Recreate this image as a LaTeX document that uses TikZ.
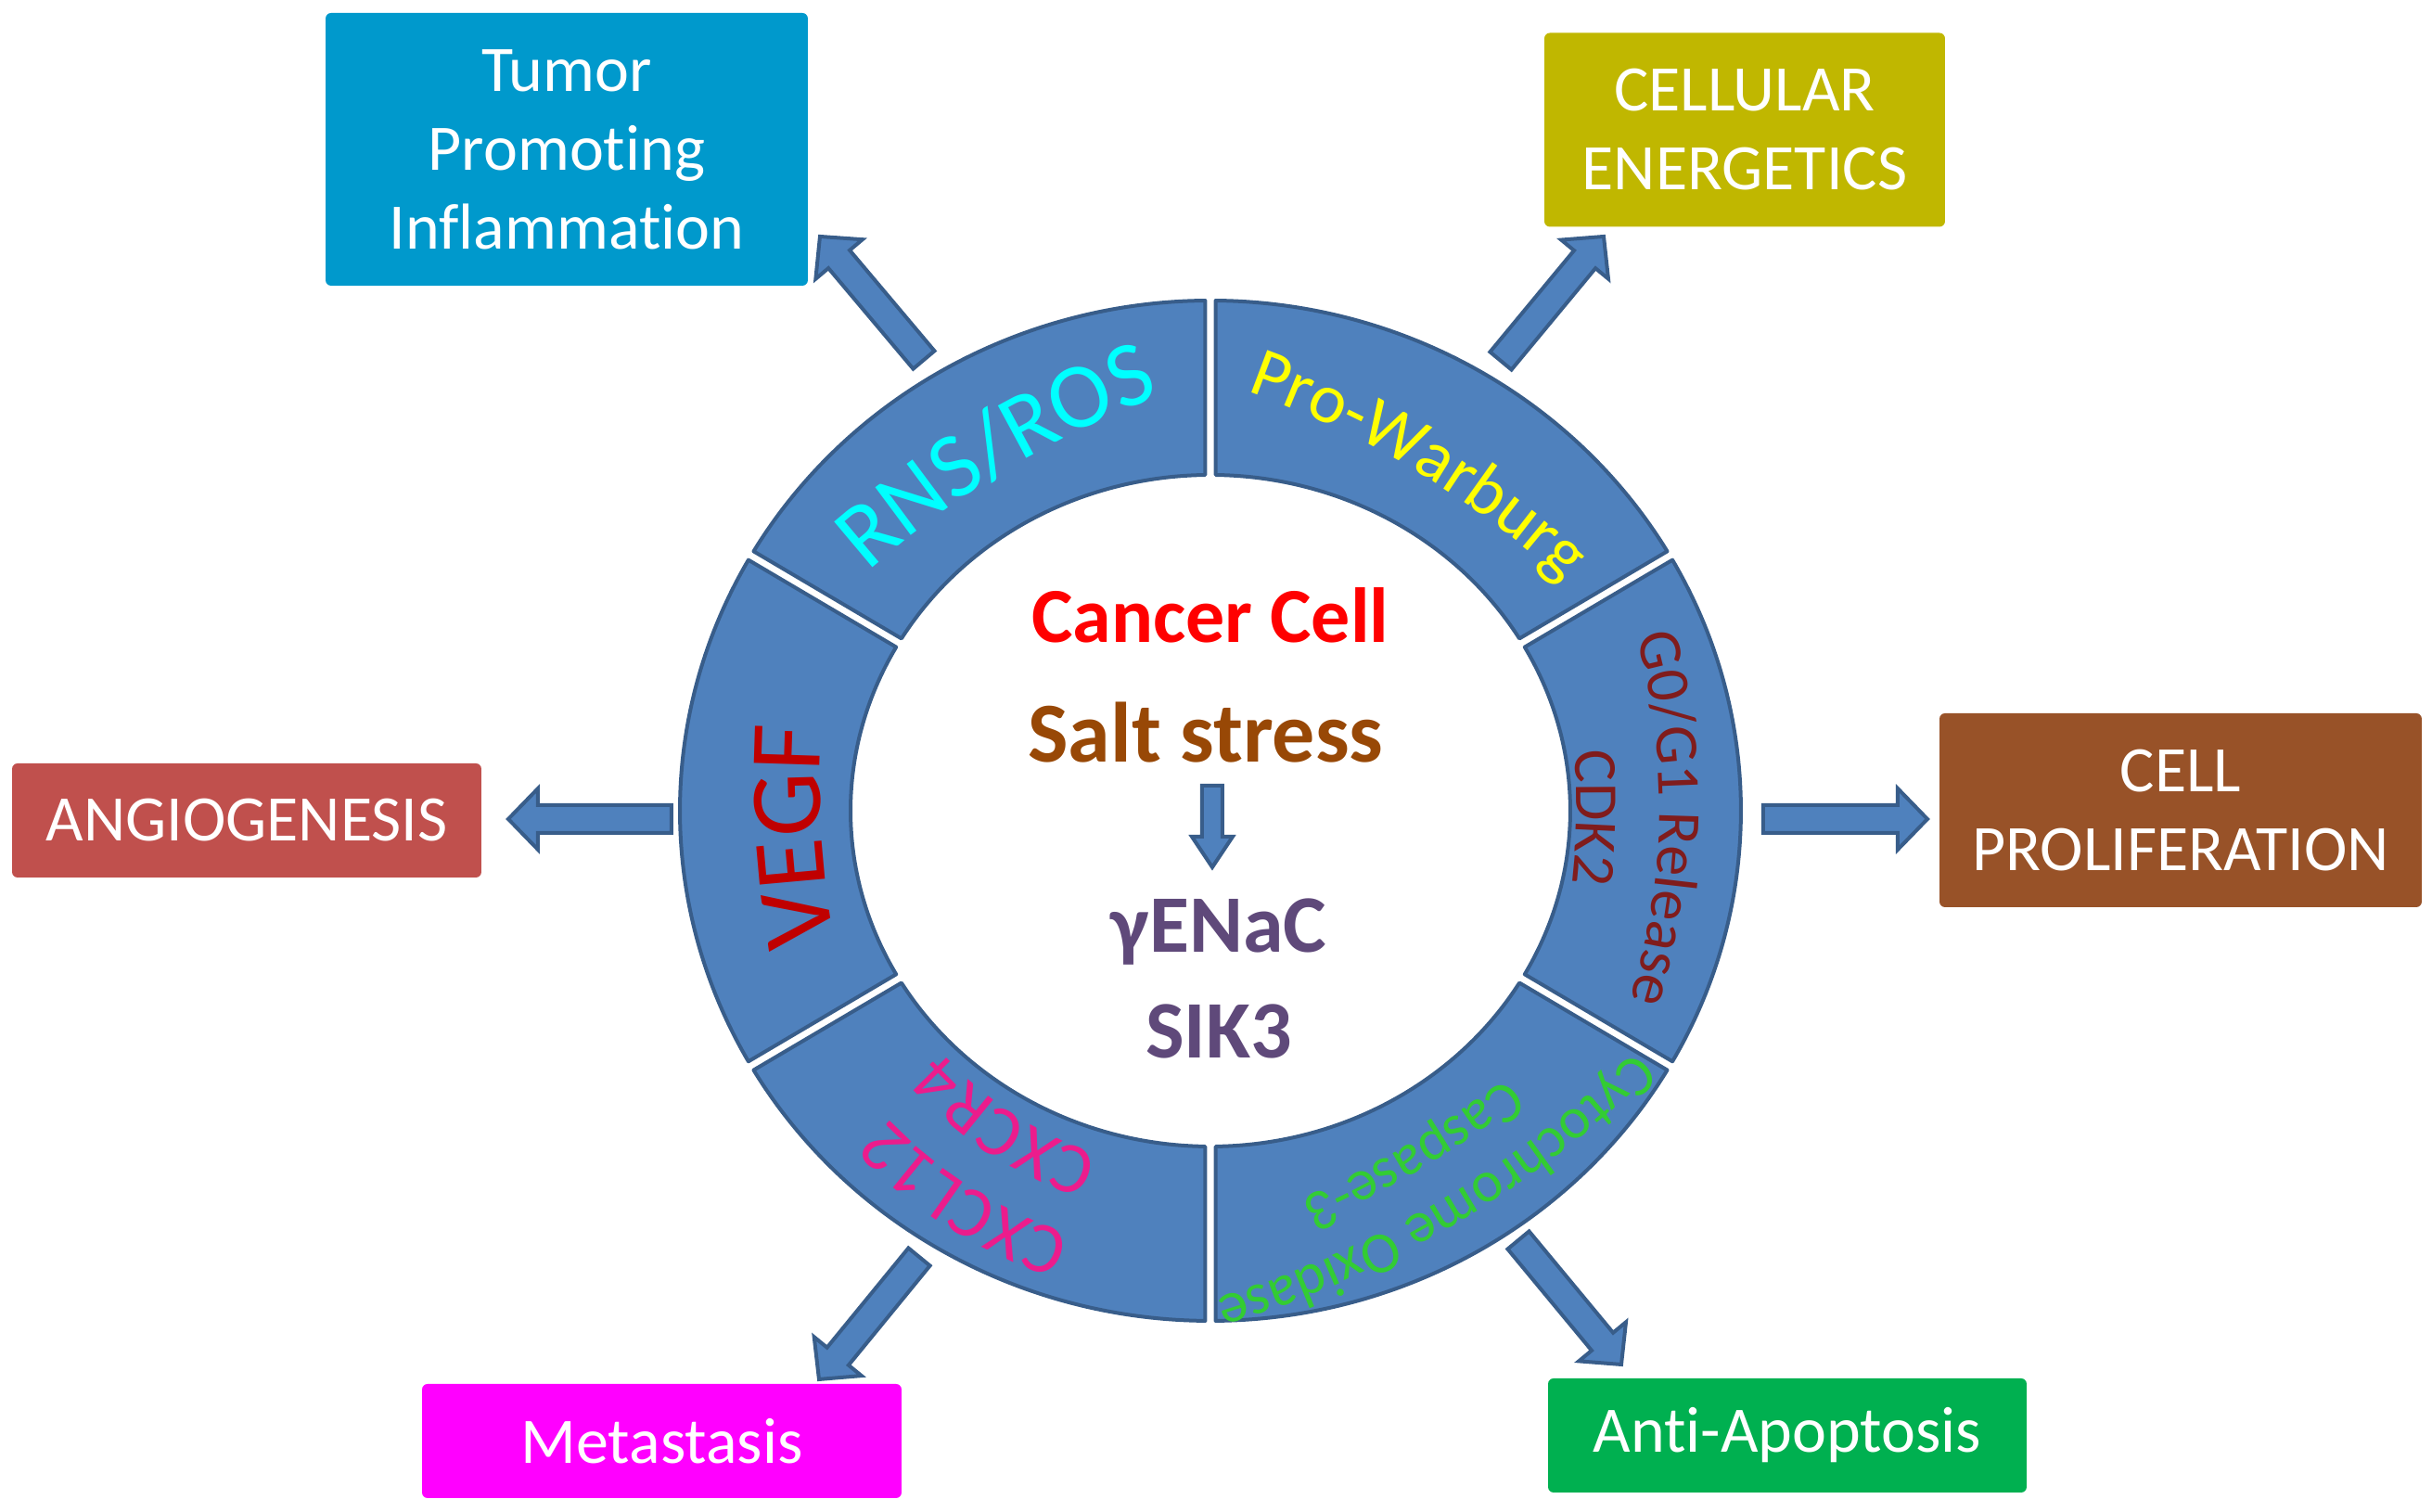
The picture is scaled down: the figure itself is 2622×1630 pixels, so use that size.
\documentclass[tikz,border=0pt]{standalone}
\usepackage{fontspec}
\setmainfont[Ligatures=NoCommon]{Carlito}
\usetikzlibrary{calc,decorations.text}
\definecolor{ringblue}{RGB}{79,129,189}
\definecolor{ringline}{RGB}{56,93,138}
\definecolor{cInfl}{RGB}{0,153,204}
\definecolor{cEner}{RGB}{192,183,0}
\definecolor{cAngio}{RGB}{192,80,77}
\definecolor{cProl}{RGB}{152,82,40}
\definecolor{cMeta}{RGB}{255,0,255}
\definecolor{cApop}{RGB}{0,176,80}
\definecolor{tCancer}{RGB}{255,0,0}
\definecolor{tSalt}{RGB}{152,72,6}
\definecolor{tEnac}{RGB}{95,73,122}
\definecolor{tCyan}{RGB}{0,255,255}
\definecolor{tYellow}{RGB}{255,255,0}
\definecolor{tGzero}{RGB}{128,28,28}
\definecolor{tGreen}{RGB}{51,204,51}
\definecolor{tPink}{RGB}{236,28,140}
\definecolor{tVegf}{RGB}{192,0,0}
% sizes are given in pixels of the reference; 1 px = 0.1 pt
\newcommand\fsz[1]{\fontsize{#1pt}{#1pt}\selectfont}
% block arrow: tail, tip, shaft half width, head half width, head length (px)
\newcommand\blockarrow[5]{%
  \pgfmathsetmacro\baW{#3*0.1}\pgfmathsetmacro\baH{#4*0.1}\pgfmathsetmacro\baL{#5*0.1}%
  \path ($(#2)!\baL pt!(#1)$) coordinate (bahead);
  \draw[barrow] ($(#1)!\baW pt!90:(#2)$) -- ($(bahead)!\baW pt!-90:(#1)$)
    -- ($(bahead)!\baH pt!-90:(#1)$) -- (#2) -- ($(bahead)!\baH pt!90:(#1)$)
    -- ($(bahead)!\baW pt!90:(#1)$) -- ($(#1)!\baW pt!-90:(#2)$) -- cycle;}
% ring label: angle, baseline distance, curvature radius, size (pt), colour, text
\newcommand\ringlabel[6]{%
  \pgfmathsetmacro\lbOff{#2-#3}%
  \pgfmathsetmacro\lbSpan{min(80,2000/#3*10)}%
  \pgfmathsetmacro\lbA{#1+\lbSpan}%
  \pgfmathsetmacro\lbB{#1-\lbSpan}%
  \path[decorate, decoration={text along path, text={|\fsz{#4}|#6},
      text align=center, text color=#5}]
    ($(C)+(#1:\lbOff)+(\lbA:#3)$) arc[start angle=\lbA, end angle=\lbB, radius=#3];}
\begin{document}
\begin{tikzpicture}[x=0.1pt,y=0.1pt,
  outbox/.style={rectangle, rounded corners=0.6pt, inner sep=0pt, text=white,
    align=center, font=\fontsize{7pt}{8.5pt}\selectfont},
  seg/.style={fill=ringblue, draw=ringline, line width=0.4pt, line join=round},
  barrow/.style={fill=ringblue, draw=ringline, line width=0.4pt},
  ctext/.style={anchor=base, inner sep=0pt}]
\path[use as bounding box] (0,0) rectangle (2622,1630);
\coordinate (C) at (1305,756);
% ring segments
\foreach \a in {30,90,150,210,270,330}{
  \draw[seg] ($(C)+(\a+0.56:572 and 550)$)
    arc[start angle=\a+0.56, end angle=\a+59.44, x radius=572, y radius=550]
    -- ($(C)+(\a+59.16:388 and 362)$)
    arc[start angle=\a+59.16, end angle=\a+0.84, x radius=388, y radius=362] -- cycle;
}
% outer boxes
\node[outbox, fill=cInfl, minimum width=52pt, minimum height=29.4pt] (infl) at (611,1469) {Tumor\\Promoting\\Inflammation};
\node[outbox, fill=cEner, minimum width=43.2pt, minimum height=20.9pt] (ener) at (1881,1490) {CELLULAR\\ENERGETICS};
\node[outbox, fill=cAngio, minimum width=50.6pt, minimum height=12.3pt] (angio) at (266,745.5) {ANGIOGENESIS};
\node[outbox, fill=cProl, minimum width=52pt, minimum height=20.9pt] (prolif) at (2351,756.5) {CELL\\PROLIFERATION};
\node[outbox, fill=cMeta, minimum width=51.7pt, minimum height=12.3pt] (meta) at (713.5,76.5) {Metastasis};
\node[outbox, fill=cApop, minimum width=51.6pt, minimum height=12.3pt] (apop) at (1927,82.5) {Anti-Apoptosis};
% arrow ends
\coordinate (tailL) at (724,747);   \coordinate (tipL) at (548,747);
\coordinate (tailR) at (1901,747);  \coordinate (tipR) at (2078,747);
\coordinate (tailUL) at (996,1242); \coordinate (tipUL) at (884,1375);
\coordinate (tailUR) at (1618,1241);\coordinate (tipUR) at (1729,1375);
\coordinate (tailLL) at (991,275);  \coordinate (tipLL) at (883,143);
\coordinate (tailLR) at (1637,293); \coordinate (tipLR) at (1748,159);
\blockarrow{tailL}{tipL}{15}{33}{32}
\blockarrow{tailR}{tipR}{15}{33}{32}
\blockarrow{tailUL}{tipUL}{15}{33}{32}
\blockarrow{tailUR}{tipUR}{15}{33}{32}
\blockarrow{tailLL}{tipLL}{15}{33}{32}
\blockarrow{tailLR}{tipLR}{15}{33}{32}
% centre texts
\node[ctext, text=tCancer, font=\bfseries\fsz{8.4}] (cancer) at (1305,937) {Cancer Cell};
\node[ctext, text=tSalt, font=\bfseries\fsz{9.2}] (salt) at (1300,808) {Salt stress};
\node[ctext, text=tEnac, font=\bfseries\fsz{8.8}] (enac) at (1314,603) {γENaC};
\node[ctext, text=tEnac, font=\bfseries\fsz{8.8}] (sik) at (1314,489) {SIK3};
\coordinate (saTail) at (1307,783); \coordinate (saTip) at (1307,695);
\blockarrow{saTail}{saTip}{11}{22}{33}
% ring labels
\ringlabel{121}{428}{1000}{10}{tCyan}{RNS/ROS}
\ringlabel{59}{428}{1000}{7.6}{tYellow}{Pro-Warburg}
\ringlabel{-1}{484}{700}{6.6}{tGzero}{G0/G1 Release}
\ringlabel{-1}{395}{700}{6.6}{tGzero}{CDK2}
\ringlabel{300.5}{488}{1100}{6.3}{tGreen}{Cytochrome Oxidase}
\ringlabel{300.5}{418}{1100}{6.3}{tGreen}{Caspase-3}
\ringlabel{237.7}{481}{481}{7.8}{tPink}{CXCL12}
\ringlabel{237}{390}{390}{7.8}{tPink}{CXCR4}
\ringlabel{183.5}{420}{1000}{11}{tVegf}{VEGF}
\end{tikzpicture}
\end{document}
